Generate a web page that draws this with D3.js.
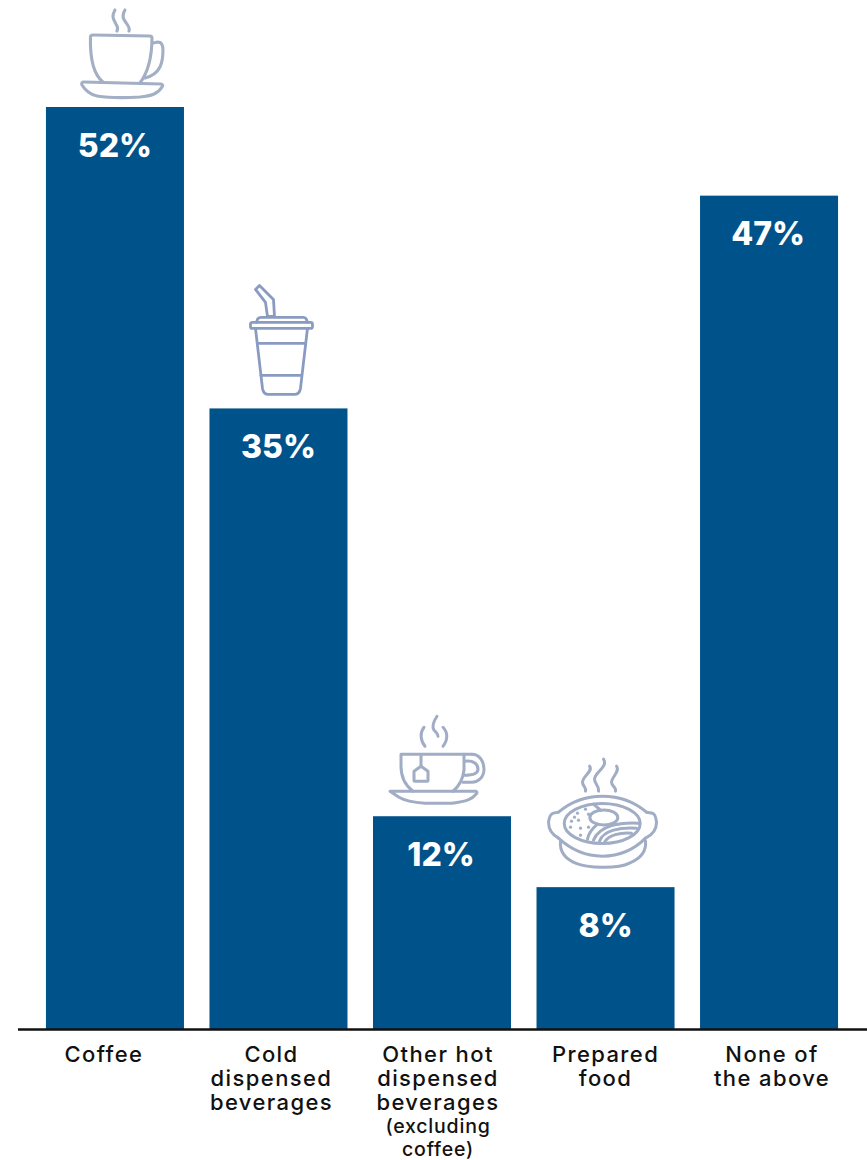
<!DOCTYPE html>
<html>
<head>
<meta charset="utf-8">
<script src="https://cdn.jsdelivr.net/npm/d3@7"></script>
<style>
  html, body { margin: 0; padding: 0; background: #fff; }
  svg { display: block; }
  text { font-family: Inter, "Open Sans", sans-serif; }
</style>
</head>
<body>
<svg id="chart" width="867" height="1160"></svg>
<script>
// Share of respondents by purchase category
const categories = ["Coffee", "Cold dispensed beverages", "Other hot dispensed beverages", "Prepared food", "None of the above"];
const shares = [52, 35, 12, 8, 47];
const labelLines = [
  ["Coffee"],
  ["Cold", "dispensed", "beverages"],
  ["Other hot", "dispensed", "beverages", "(excluding", "coffee)"],
  ["Prepared", "food"],
  ["None of", "the above"]
];

// Line-art pictograms, drawn relative to the top centre of their bar
const icons = [
  { stroke: "#a3afc5", width: 3.1, d: [
      "M-12,-25 C-22,-33 -25,-50 -24.5,-70 Q-24.5,-72 -22,-72 L35,-71 Q37,-71 37,-69 C37,-50 34,-36 25,-24",
      "M38,-64 L43,-65 Q48,-65 48,-57 C48,-45 46,-33 30,-29",
      "M-31,-25 L46,-23 Q49,-22 47,-20 C43,-13 36,-11 25,-10 C10,-9 -5,-9 -18,-11 C-24,-12 -30,-17 -33,-22 Q-34,-25 -31,-25Z",
      "M0,-97 C-4,-90 -1,-87 1,-83 C3,-80 3,-78 2,-76",
      "M10,-97 C6,-90 9,-87 12,-83 C14,-80 15,-78 14,-76"
  ]},
  { stroke: "#8a9bc2", width: 2.8, d: [
      "M-23,-119 L-19,-123 L-5,-109 L-4,-92 L-11,-92 L-13,-106Z",
      "M-22,-86 L-21,-89 Q-20,-91 -17,-91 L25,-91 Q27,-91 28,-89 L29,-86",
      "M-26,-86 L32,-86 Q34,-86 34,-84 L34,-82 Q34,-80 32,-80 L-26,-80 Q-28,-80 -28,-82 L-28,-84 Q-28,-86 -26,-86Z",
      "M-23,-80 L-16,-20 Q-15,-14 -10,-14 L16,-14 Q21,-14 22,-20 L29,-80",
      "M-21,-65 L26,-65",
      "M-17.5,-33 L22.5,-33"
  ]},
  { stroke: "#a0adc5", width: 3, d: [
      "M-29,-25 C-37,-31 -41,-40 -41,-50 L-41,-62 L30,-62",
      "M22,-62 L22,-46 C21,-38 17,-30 11,-25",
      "M30,-62 C38,-62 42,-54 42,-47 C42,-39 36,-34 30,-34 L21,-34",
      "M23,-55 C32,-56 36,-52 36,-47 C36,-43 30,-41 22,-41",
      "M-21,-60 L-21,-50",
      "M-21,-50 L-28,-45 L-28,-36 Q-28,-35 -27,-35 L-15,-35 Q-14,-35 -14,-36 L-14,-45Z",
      "M-52,-25 L34,-25 Q36,-24 34,-22 C30,-17 25,-15 10,-13 L-17,-13 C-30,-14 -38,-16 -43,-19Z",
      "M-18,-89 C-22,-84 -22,-76 -17,-70",
      "M-5,-100 C-9,-94 -10,-89 -8,-86 C-6,-84 -4,-83 -4,-80",
      "M1,-89 C6,-84 6,-76 1,-70"
  ]},
  { stroke: "#a0adc5", width: 3, d: [
      "M-47,-75 C-33,-87 -17,-91 -3,-91 C11,-91 27,-87 41,-75",
      "M-47,-75 L-52,-74 Q-56,-73 -57,-65 C-57,-58 -54,-53 -47,-49",
      "M41,-75 L47,-74 Q50,-73 51,-65 C51,-58 48,-53 40,-49",
      "M-47,-49 C-33,-36 -17,-31 -3,-31 C11,-31 27,-36 40,-49",
      "M-45,-46 C-46,-36 -42,-29 -30,-24 C-18,-19 12,-18 24,-24 C36,-29 41,-36 40,-46",
      "M-41.3,-63.7 A38,20 0 1 0 34.7,-63.7 A38,20 0 1 0 -41.3,-63.7Z",
      "M-15.7,-69.7 A14,7.5 0 1 0 12.3,-69.7 A14,7.5 0 1 0 -15.7,-69.7Z",
      "M-12,-83 L-5,-77",
      "M-8,-63 C-14,-58 -17,-54 -18,-48",
      "M33,-64 C15,-65 -6,-62 -12,-47",
      "M31,-59 C15,-60 -2,-57 -6,-46",
      "M26,-54 C15,-55 3,-52 -1,-45",
      "M-16,-121 C-12,-116 -23,-111 -23,-105 C-23,-101 -19,-100 -20,-96",
      "M-2,-128 C3,-120 -11,-115 -11,-108 C-11,-103 -6,-101 -7,-96",
      "M11,-121 C15,-116 6,-110 6,-105 C6,-101 11,-100 10,-96"
    ],
    dots: [[-28,-74],[-31,-70],[-20,-78],[-17,-73],[-34,-66],[-27,-67],[-35,-60],[-25,-59],[-17,-60],[-25,-52]]
  }
];

// Category labels sit slightly off the bar centres
const labelShift = [-11, -7, -4, 0, 3];
const valueShift = [0, 0, -1, 0, -1];

const svg = d3.select("#chart");

const x = d3.scaleBand()
  .domain(categories)
  .range([17.5, 866.5])
  .paddingInner(0.156)
  .paddingOuter(0.174);

const y = d3.scaleLinear()
  .domain([0, 52])
  .range([1029, 107]);

const barColor = "#00528a";

svg.append("g")
  .selectAll("rect")
  .data(categories)
  .join("rect")
  .attr("x", d => x(d))
  .attr("y", (d, i) => y(shares[i]))
  .attr("width", x.bandwidth())
  .attr("height", (d, i) => y(0) - y(shares[i]))
  .attr("fill", barColor);

svg.append("g")
  .selectAll("text")
  .data(categories)
  .join("text")
  .attr("x", (d, i) => x(d) + x.bandwidth() / 2 + valueShift[i])
  .attr("y", (d, i) => y(shares[i]) + 49.5)
  .attr("text-anchor", "middle")
  .attr("fill", "#fff")
  .attr("font-size", 32)
  .attr("font-weight", 800)
  .text((d, i) => shares[i] + "%");

// Pictograms above the first four bars
const iconGroups = svg.append("g")
  .selectAll("g")
  .data(icons)
  .join("g")
  .attr("transform", (d, i) => `translate(${x(categories[i]) + x.bandwidth() / 2},${y(shares[i])})`)
  .attr("fill", "none")
  .attr("stroke", d => d.stroke)
  .attr("stroke-width", d => d.width)
  .attr("stroke-linecap", "round")
  .attr("stroke-linejoin", "round");

iconGroups.selectAll("path")
  .data(d => d.d)
  .join("path")
  .attr("d", d => d);

iconGroups.selectAll("circle")
  .data(d => d.dots || [])
  .join("circle")
  .attr("cx", d => d[0])
  .attr("cy", d => d[1])
  .attr("r", 1.6)
  .attr("fill", "#a0adc5")
  .attr("stroke", "none");

// Baseline and multi-line category labels
const axis = svg.append("g")
  .attr("transform", `translate(0,${y(0)})`)
  .call(d3.axisBottom(x).tickSize(0).tickPadding(0).tickFormat(""));

axis.select(".domain")
  .attr("stroke", "#111")
  .attr("stroke-width", 2.6);

axis.selectAll(".tick text").remove();

axis.selectAll(".tick")
  .append("text")
  .attr("text-anchor", "middle")
  .attr("fill", "#111")
  .attr("font-weight", 500)
  .each(function (d, i) {
    d3.select(this).selectAll("tspan")
      .data(labelLines[i])
      .join("tspan")
      .attr("x", labelShift[i])
      .attr("y", (line, j) => j > 2 ? 81 + (j - 2) * 23 : 33 + j * 24)
      .attr("font-size", (line, j) => j > 2 ? 19.5 : 22)
      .attr("letter-spacing", (line, j) => j > 2 ? 0.8 : 1.4)
      .text(line => line);
  });
</script>
</body>
</html>
